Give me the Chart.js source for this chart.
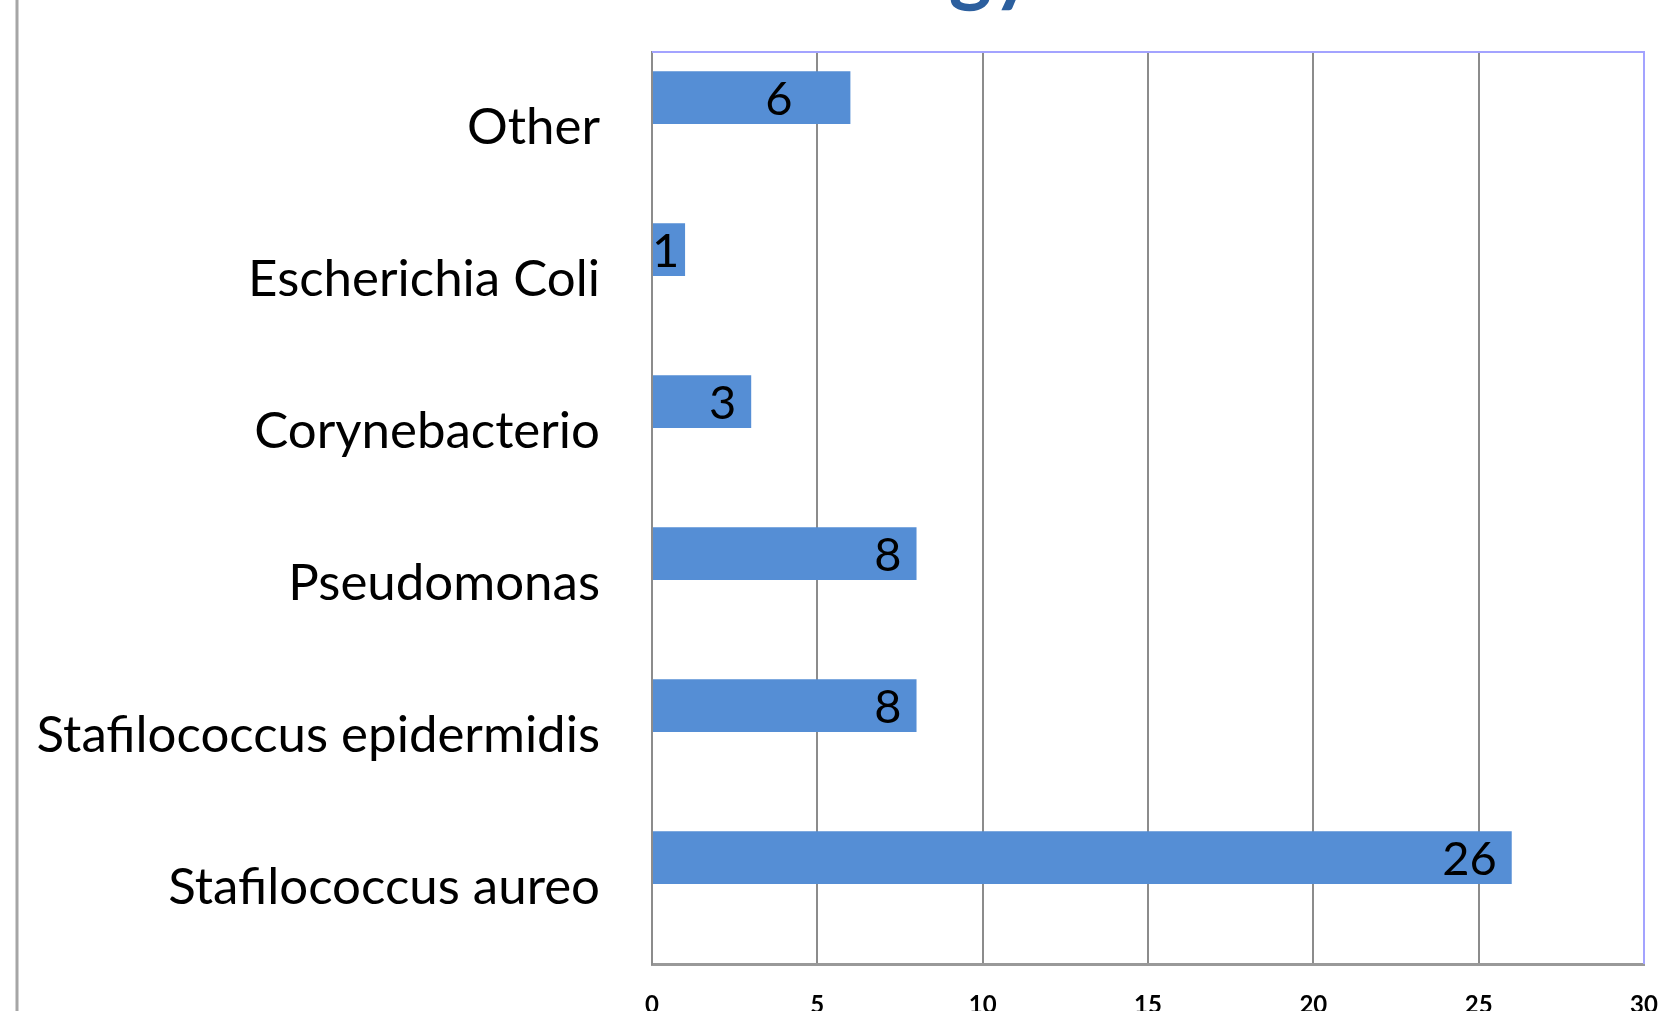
<!DOCTYPE html>
<html>
<head>
<meta charset="utf-8">
<script src="https://cdn.jsdelivr.net/npm/chart.js@4.4.1/dist/chart.umd.min.js"></script>
<style>
  html, body { margin: 0; padding: 0; background: #fff; }
  #wrap { width: 1663px; height: 1011px; position: relative; }
</style>
</head>
<body>
<div id="wrap"><canvas id="germChart"></canvas></div>
<script>
// data, top to bottom
const germs = ['Other', 'Escherichia Coli', 'Corynebacterio', 'Pseudomonas', 'Stafilococcus epidermidis', 'Stafilococcus aureo'];
const counts = [6, 1, 3, 8, 8, 26];
const xTicks = [0, 5, 10, 15, 20, 25, 30];

const barBlue = '#558ed5';
const gridGray = '#8c8c8c';

// values written inside the bar ends
const valueLabels = {
    id: 'valueLabels',
    afterDatasetsDraw(chart, args, opts) {
        const ctx = chart.ctx;
        const meta = chart.getDatasetMeta(0);
        ctx.save();
        ctx.font = '47px Lato';
        ctx.fillStyle = '#000';
        ctx.textAlign = 'right';
        ctx.textBaseline = 'middle';
        meta.data.forEach((bar, i) => {
            const txt = String(counts[i]);
            const w = ctx.measureText(txt).width;
            const inset = (opts.insets && opts.insets[i] !== undefined) ? opts.insets[i] : opts.inset;
            const x = Math.max(bar.x - inset, chart.chartArea.left + w);
            ctx.fillText(txt, x, bar.y + 2);
        });
        ctx.restore();
    }
};

// plot frame, page edge line and the cropped title
const frame = {
    id: 'frame',
    beforeDraw(chart) {
        const ctx = chart.ctx;
        ctx.save();
        ctx.fillStyle = '#fff';
        ctx.fillRect(0, 0, chart.width, chart.height);
        ctx.strokeStyle = '#a6a6a6';
        ctx.lineWidth = 3;
        ctx.beginPath();
        ctx.moveTo(17, 0);
        ctx.lineTo(17, chart.height);
        ctx.stroke();
        ctx.font = 'bold 82px Lato';
        ctx.fillStyle = '#2c5f9e';
        ctx.textAlign = 'center';
        ctx.textBaseline = 'alphabetic';
        ctx.fillText('gy', 992, -4);
        ctx.restore();
    },
    afterDraw(chart) {
        const {left, right, top, bottom} = chart.chartArea;
        const ctx = chart.ctx;
        ctx.save();
        ctx.strokeStyle = '#a3a3ff';
        ctx.lineWidth = 2;
        ctx.beginPath();
        ctx.moveTo(left, top);
        ctx.lineTo(right, top);
        ctx.lineTo(right, bottom);
        ctx.stroke();
        ctx.restore();
    }
};

const ctx = document.getElementById('germChart').getContext('2d');
const germChart = new Chart(ctx, {
    type: 'bar',
    data: {
        labels: germs,
        datasets: [{
            label: 'Count',
            data: counts,
            backgroundColor: barBlue,
            categoryPercentage: 0.8,
            barPercentage: 0.87
        }, {
            label: 'spacer',
            data: [],
            backgroundColor: barBlue,
            categoryPercentage: 0.8,
            barPercentage: 0.87
        }]
    },
    options: {
        indexAxis: 'y',
        responsive: true,
        maintainAspectRatio: false,
        animation: false,
        layout: { padding: { left: 0, right: 19, top: 52, bottom: 0 } },
        plugins: {
            legend: { display: false },
            tooltip: { enabled: false },
            valueLabels: { inset: 15, insets: { 0: 58 } }
        },
        scales: {
            x: {
                min: 0,
                max: 30,
                afterBuildTicks: (axis) => { axis.ticks = xTicks.map(v => ({ value: v })); },
                afterFit: (axis) => {
                    axis.height = 47;
                    axis.paddingLeft = 0;
                    axis.paddingRight = 0;
                },
                grid: { color: gridGray, lineWidth: 2, drawTicks: false },
                border: { color: '#999', width: 3 },
                ticks: {
                    padding: 27,
                    color: '#000',
                    font: { family: 'Lato', size: 24, weight: 'bold' }
                }
            },
            y: {
                afterFit: (axis) => {
                    axis.width = 652;
                    axis.paddingTop = 0;
                    axis.paddingBottom = 0;
                },
                grid: { display: false, drawTicks: false },
                border: { color: gridGray, width: 2 },
                ticks: {
                    padding: 52,
                    color: '#000',
                    font: { family: 'Lato', size: 51 }
                }
            }
        }
    },
    plugins: [frame, valueLabels]
});
</script>
</body>
</html>
